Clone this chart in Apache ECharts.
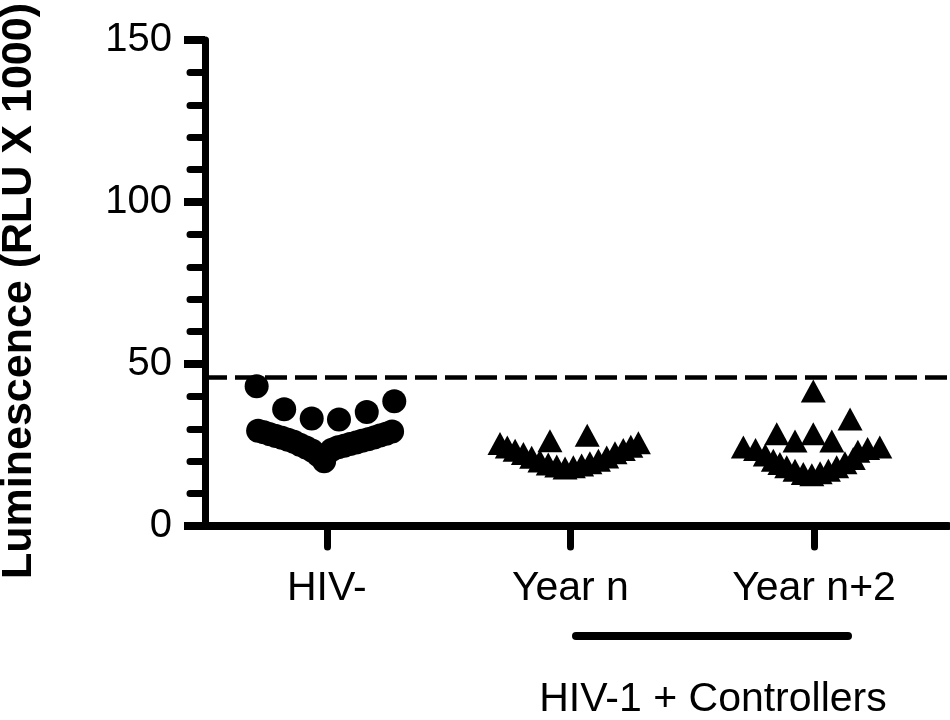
<!DOCTYPE html>
<html><head><meta charset="utf-8">
<script src="https://cdn.jsdelivr.net/npm/echarts@6/dist/echarts.min.js"></script>
<style>html,body{margin:0;padding:0;background:#fff}#c{width:950px;height:720px}</style>
</head><body><div id="c"></div>
<script>
const categories = ['HIV-', 'Year n', 'Year n+2'];
const yMin = 0, yMax = 150, yStep = 50;
const threshold = 46;
const groupLabel = 'HIV-1 + Controllers';
const yTitle = 'Luminescence (RLU X 1000)';

// HIV- (circles)
const hivNegValues = [43.1, 36.0, 33.2, 32.9, 35.2, 38.5,
  29.4, 28.9, 28.3, 27.8, 27.2, 26.6, 26.0, 25.1, 24.2, 23.3, 21.9, 20.0,
  23.5, 24.3, 24.8, 25.3, 25.8, 26.3, 26.8, 27.3, 27.9, 28.5, 29.2];
const hivNegJitter = [-0.288, -0.175, -0.062, 0.050, 0.164, 0.277,
  -0.282, -0.258, -0.233, -0.209, -0.184, -0.159, -0.135, -0.110, -0.085, -0.061, -0.036, -0.011,
  0.021, 0.046, 0.071, 0.095, 0.120, 0.144, 0.169, 0.194, 0.218, 0.243, 0.268];

// Year n (triangles)
const yearNValues = [26.3, 28.0,
  25.5, 24.4, 23.4, 22.4, 21.2, 20.1, 19.1, 18.5, 17.9,
  18.3, 18.8, 19.5, 20.3, 21.3, 22.6, 23.6, 24.6, 25.7];
const yearNJitter = [-0.084, 0.069,
  -0.289, -0.259, -0.227, -0.193, -0.159, -0.125, -0.091, -0.056, -0.022,
  0.012, 0.046, 0.080, 0.115, 0.149, 0.183, 0.217, 0.248, 0.279];

// Year n+2 (triangles)
const yearN2Values = [41.7, 33.0, 28.5, 28.5, 26.2, 26.2,
  24.4, 23.6, 21.9, 24.4, 23.9, 23.1,
  20.3, 19.3, 18.3, 17.2, 16.2, 15.8, 16.4, 17.2, 18.3, 19.5, 20.8];
const yearN2Jitter = [-0.003, 0.148, -0.153, -0.003, -0.078, 0.073,
  -0.290, -0.240, -0.200, 0.270, 0.220, 0.180,
  -0.167, -0.140, -0.112, -0.078, -0.044, -0.009, 0.025, 0.059, 0.093, 0.127, 0.161];

const FONT = "'Liberation Sans', Arial, sans-serif";
const pts = (vals, jit, g) => vals.map((v, i) => [g + jit[i], v]);

const chart = echarts.init(document.getElementById('c'), null, {renderer: 'canvas'});
chart.setOption({
  animation: false,
  backgroundColor: '#fff',
  grid: {left: 205, right: 2, top: 40, bottom: 194, containLabel: false},
  xAxis: {
    type: 'value', min: 0.5, max: 3.55,
    splitLine: {show: false},
    axisLine: {show: true, onZero: false, lineStyle: {color: '#000', width: 8}},
    axisTick: {show: true, customValues: [1, 2, 3], length: 21, lineStyle: {color: '#000', width: 7, cap: 'round'}},
    axisLabel: {show: true, customValues: [1, 2, 3], margin: 42, color: '#000', fontSize: 41, fontFamily: FONT,
      formatter: v => categories[Math.round(v) - 1] || ''}
  },
  yAxis: {
    type: 'value', min: yMin, max: yMax, interval: yStep,
    splitLine: {show: false},
    axisLine: {show: true, lineStyle: {color: '#000', width: 7}},
    axisTick: {show: true, length: 21, lineStyle: {color: '#000', width: 8}},
    minorTick: {show: true, splitNumber: 5, length: 15, lineStyle: {color: '#000', width: 7, cap: 'round'}},
    axisLabel: {margin: 33, color: '#000', fontSize: 40, fontFamily: FONT, padding: [10, 0, 0, 0]}
  },
  series: [
    {
      type: 'scatter', name: categories[0], symbol: 'circle', symbolSize: 24,
      itemStyle: {color: '#000', opacity: 1},
      data: pts(hivNegValues, hivNegJitter, 1),
      markLine: {
        silent: true, symbol: 'none', label: {show: false},
        lineStyle: {color: '#000', width: 4.5, type: [22, 8]},
        data: [{yAxis: threshold}]
      }
    },
    {
      type: 'scatter', name: categories[1], symbol: 'triangle', symbolSize: [25, 23],
      itemStyle: {color: '#000', opacity: 1},
      data: pts(yearNValues, yearNJitter, 2)
    },
    {
      type: 'scatter', name: categories[2], symbol: 'triangle', symbolSize: [25, 23],
      itemStyle: {color: '#000', opacity: 1},
      data: pts(yearN2Values, yearN2Jitter, 3)
    }
  ],
  graphic: [
    {type: 'text', x: 19, y: 291, rotation: Math.PI / 2,
      style: {text: yTitle, fill: '#000', font: "bold 43px " + FONT, textAlign: 'center', textVerticalAlign: 'middle'}},
    {type: 'line', shape: {x1: 576, y1: 636, x2: 848, y2: 636},
      style: {stroke: '#000', lineWidth: 8, lineCap: 'round'}},
    {type: 'text', x: 713, y: 700,
      style: {text: groupLabel, fill: '#000', font: "41px " + FONT, textAlign: 'center', textVerticalAlign: 'middle'}}
  ]
});
</script>
</body></html>
